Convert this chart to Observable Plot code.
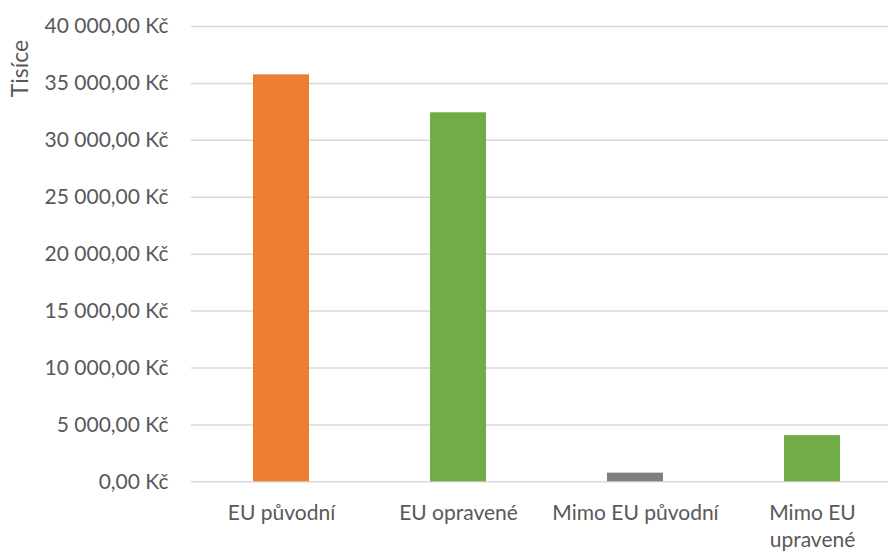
<!DOCTYPE html>
<html>
<head>
<meta charset="utf-8">
<script src="https://cdn.jsdelivr.net/npm/d3@7"></script>
<script src="https://cdn.jsdelivr.net/npm/@observablehq/plot@0.6"></script>
<style>
  html, body { margin: 0; padding: 0; background: #fff; }
  #chart svg { display: block; }
</style>
</head>
<body>
<div id="chart"></div>
<script>
// Categories, labels (with line breaks) and amounts in thousands of CZK
const categories = ["EU původní", "EU opravené", "Mimo EU původní", "Mimo EU upravené"];
const categoryLabels = ["EU původní", "EU opravené", "Mimo EU původní", "Mimo EU\nupravené"];
const values = [35750, 32420, 760, 4060];
const barColors = ["#ED7D31", "#70AD47", "#7F7F7F", "#70AD47"];
const yTicks = [0, 5000, 10000, 15000, 20000, 25000, 30000, 35000, 40000];
const yTitle = "Tisíce";

const data = categories.map((c, i) => ({category: c, value: values[i]}));

const czk = d3.formatLocale({
  decimal: ",",
  thousands: "\u00a0",
  grouping: [3],
  currency: ["", "\u00a0Kč"]
}).format("$,.2f");

const labelOf = new Map(categories.map((c, i) => [c, categoryLabels[i]]));
const textColor = "#595959";
const font = "Lato, 'Open Sans', sans-serif";

const chart = Plot.plot({
  width: 888,
  height: 552,
  marginLeft: 191,
  marginRight: 0,
  marginTop: 26,
  marginBottom: 70.7,
  style: {fontFamily: font, fontSize: "21px", color: textColor, background: "#fff"},
  x: {
    domain: categories,
    range: [191, 902],
    paddingInner: 0.685,
    paddingOuter: 0.3425,
    label: null
  },
  y: {domain: [0, 40000], label: null},
  color: {domain: categories, range: barColors},
  marks: [
    Plot.ruleY(yTicks, {stroke: "#D9D9D9", strokeWidth: 1.5}),
    Plot.barY(data, {x: "category", y: "value", fill: "category"}),
    Plot.axisY(yTicks, {
      tickSize: 0,
      tickPadding: 23,
      tickFormat: czk,
      fill: textColor,
      fontSize: 21,
      label: null
    }),
    Plot.axisX({
      tickSize: 0,
      tickPadding: 19,
      tickFormat: d => labelOf.get(d),
      fill: textColor,
      fontSize: 21,
      lineHeight: 1.28,
      lineAnchor: "top",
      label: null
    }),
    Plot.text([yTitle], {
      frameAnchor: "top-left",
      dx: -180,
      dy: 42,
      rotate: -90,
      text: d => d,
      fill: textColor,
      fontSize: 23,
      textAnchor: "middle"
    })
  ]
});

document.getElementById("chart").appendChild(chart);
</script>
</body>
</html>
